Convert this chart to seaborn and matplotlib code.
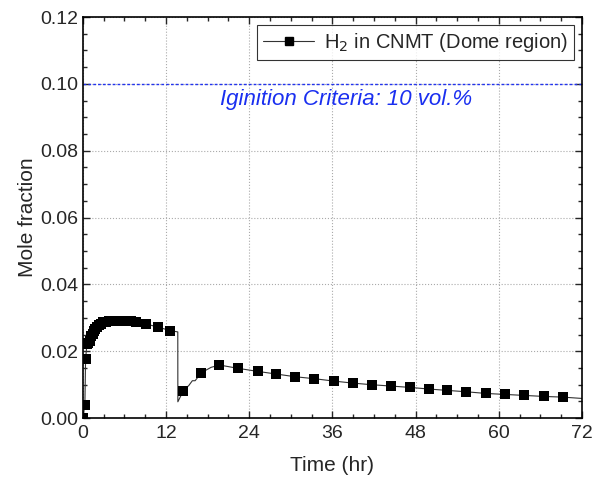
import matplotlib
matplotlib.use("Agg")
import matplotlib.pyplot as plt
import seaborn as sns
import numpy as np
import pandas as pd
from matplotlib.lines import Line2D
from matplotlib.ticker import MultipleLocator

# Marker points (time in hr, H2 mole fraction)
marker_time = [0.0, 0.3, 0.4, 0.6, 0.8, 1.0, 1.2, 1.4, 1.6, 1.8, 2.0, 2.3, 2.6, 2.9,
               3.3, 3.8, 4.3, 4.8, 5.4, 6.2, 6.9, 7.7, 9.1, 10.9, 12.6,
               14.5, 17.1, 19.7, 22.4, 25.2, 27.9, 30.6, 33.4, 36.2, 38.9, 41.7,
               44.5, 47.2, 50.0, 52.6, 55.3, 58.1, 60.9, 63.7, 66.5, 69.2]
marker_h2 = [0.0, 0.0039, 0.0177, 0.0222, 0.0226, 0.0232, 0.0245, 0.0253, 0.0262, 0.0268,
             0.0273, 0.0279, 0.0283, 0.0287, 0.0289, 0.0290, 0.0291, 0.0292, 0.0292, 0.0291,
             0.0290, 0.0289, 0.0282, 0.0272, 0.0262,
             0.0082, 0.0136, 0.0159, 0.0149, 0.0140, 0.0132, 0.0124, 0.0118, 0.0111, 0.0105,
             0.0100, 0.0096, 0.0092, 0.0087, 0.0083, 0.0079, 0.0074, 0.0071, 0.0068, 0.0065,
             0.0063]

# Extra line-only points (drop at ~14 hr, wiggle, tail to 72 hr)
extra_time = [13.7, 13.71, 15.3, 15.8, 16.2, 18.5, 72.0]
extra_h2 = [0.0258, 0.0049, 0.0098, 0.0112, 0.0112, 0.0152, 0.0059]

criteria = 0.10
criteria_label = "Iginition Criteria: 10 vol.%"
legend_label = "H$_2$ in CNMT (Dome region)"

line_df = pd.DataFrame({"t": marker_time + extra_time, "h2": marker_h2 + extra_h2})
line_df = line_df.sort_values("t", kind="mergesort").reset_index(drop=True)
mk_df = pd.DataFrame({"t": marker_time, "h2": marker_h2})

sns.set_style("ticks")
plt.rcParams["font.family"] = ["Liberation Sans", "DejaVu Sans"]

fig = plt.figure(figsize=(6.0, 4.79), dpi=100)
ax = fig.add_axes([0.138, 0.127, 0.832, 0.8375])

sns.lineplot(data=line_df, x="t", y="h2", sort=False, color="#333333", lw=0.8, ax=ax)
sns.scatterplot(data=mk_df, x="t", y="h2", marker="s", s=50, color="black",
                edgecolor="black", linewidth=0, ax=ax, zorder=3)

ax.axhline(criteria, color="#2233ee", lw=1.0, ls=(0, (2, 1.5)))
ax.text(38.0, 0.0952, criteria_label, color="#1a2ff0", style="italic",
        fontsize=16, ha="center", va="center")

ax.set_xlim(0, 72)
ax.set_ylim(0, 0.12)
ax.xaxis.set_major_locator(MultipleLocator(12))
ax.xaxis.set_minor_locator(MultipleLocator(3))
ax.yaxis.set_major_locator(MultipleLocator(0.02))
ax.yaxis.set_minor_locator(MultipleLocator(0.005))
ax.yaxis.set_major_formatter(matplotlib.ticker.FormatStrFormatter("%.2f"))
ax.tick_params(which="both", direction="in", top=True, right=True, labelsize=14)
ax.tick_params(axis="x", pad=5)
ax.tick_params(which="major", length=5, width=1)
ax.tick_params(which="minor", length=3, width=1)
ax.grid(True, which="major", ls=":", color="#aaaaaa", lw=0.8)
for sp in ax.spines.values():
    sp.set_linewidth(1.2)
    sp.set_color("black")

ax.set_xlabel("Time (hr)", fontsize=15, labelpad=10)
ax.set_ylabel("Mole fraction", fontsize=15, labelpad=2)

handle = Line2D([0], [0], color="#333333", lw=0.8, marker="s", markersize=6,
                markerfacecolor="black", markeredgecolor="black")
leg = ax.legend([handle], [legend_label], loc="upper right", fontsize=14.5,
                frameon=True, fancybox=False, edgecolor="black", handlelength=2.5,
                borderaxespad=0.4, borderpad=0.3, handletextpad=0.5)
leg.get_frame().set_linewidth(0.8)

fig.savefig("out.png", dpi=100)
